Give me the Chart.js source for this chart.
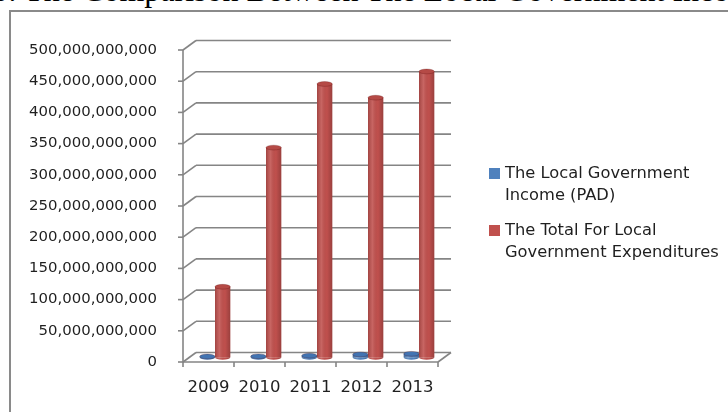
<!DOCTYPE html>
<html>
<head>
<meta charset="utf-8">
<script src="https://cdn.jsdelivr.net/npm/chart.js@4.4.1/dist/chart.umd.min.js"></script>
<style>
body{margin:0;background:#fff;overflow:hidden;width:728px;height:412px;position:relative}
#title{position:absolute;left:-8px;top:-26px;font:32px "Liberation Serif",serif;line-height:32px;white-space:nowrap;color:#000}
#frame{position:absolute;left:9px;top:10px;width:800px;height:500px;border-left:2px solid #8a8a8a;border-top:2px solid #8a8a8a}
#c{position:absolute;left:0;top:0}
</style>
</head>
<body>
<div id="title">3: The Comparison Between The Local Government Income</div>
<div id="frame"></div>
<canvas id="c" width="728" height="412"></canvas>
<script>
// values (rupiah)
const years = ['2009', '2010', '2011', '2012', '2013']
const padIncome = [1.2e9, 1.5e9, 2.5e9, 4.5e9, 5.5e9]
const totalExpenditures = [113e9, 336e9, 438e9, 416e9, 458e9]
const yTicks = [0, 50e9, 100e9, 150e9, 200e9, 250e9, 300e9, 350e9, 400e9, 450e9, 500e9]
const seriesNames = ['The Local Government Income (PAD)', 'The Total For Local Government Expenditures']
const legendLines = [['The Local Government', 'Income (PAD)'], ['The Total For Local', 'Government Expenditures']]
const seriesColors = ['#4f81bd', '#c0504d']
const capColors = ['#4274b2', '#b54a46']

const FONT = '"DejaVu Sans", sans-serif'
// depth of the fake 3d box (front plane -> back wall)
const DX = 13, DY = 9.5

function line(ctx, x1, y1, x2, y2) {
  ctx.beginPath()
  ctx.moveTo(x1, y1)
  ctx.lineTo(x2, y2)
  ctx.stroke()
}

//walls, floor and ticks, then shift the bars to mid depth
const walls = {
  id: 'walls',
  beforeDatasetsDraw(chart) {
    const { ctx, chartArea: a, scales: { x, y } } = chart
    ctx.save()
    ctx.strokeStyle = '#858585'
    ctx.lineWidth = 1.6
    yTicks.forEach(v => {
      const py = y.getPixelForValue(v)
      line(ctx, a.left - 5, py, a.left, py)
      line(ctx, a.left, py, a.left + DX, py - DY)
      line(ctx, a.left + DX, py - DY, a.right + DX, py - DY)
    })
    line(ctx, a.left, y.getPixelForValue(yTicks[yTicks.length - 1]), a.left, y.getPixelForValue(0))
    const y0 = y.getPixelForValue(0)
    line(ctx, a.left, y0, a.right, y0)
    line(ctx, a.right, y0, a.right + DX, y0 - DY)
    const w = (a.right - a.left) / years.length
    for (let i = 0; i <= years.length; i++) {
      line(ctx, a.left + i * w, y0, a.left + i * w, y0 + 5)
    }
    ctx.restore()
    ctx.save()
    ctx.translate(DX / 2, -DY / 2)
  },
  afterDatasetsDraw(chart) {
    const { ctx } = chart
    chart.data.datasets.forEach((ds, di) => {
      chart.getDatasetMeta(di).data.forEach(bar => {
        const w = bar.width, left = bar.x - w / 2, ry = 2.4
        // cylinder body shading
        const g = ctx.createLinearGradient(left, 0, left + w, 0)
        g.addColorStop(0, 'rgba(0,0,0,0.16)')
        g.addColorStop(0.3, 'rgba(255,255,255,0.12)')
        g.addColorStop(0.65, 'rgba(0,0,0,0)')
        g.addColorStop(1, 'rgba(0,0,0,0.2)')
        ctx.fillStyle = seriesColors[di]
        ctx.beginPath()
        ctx.ellipse(bar.x, bar.base, w / 2, ry, 0, 0, Math.PI)
        ctx.fill()
        ctx.fillStyle = g
        ctx.beginPath()
        ctx.moveTo(left, bar.y)
        ctx.lineTo(left, bar.base)
        ctx.ellipse(bar.x, bar.base, w / 2, ry, 0, Math.PI, 0, true)
        ctx.lineTo(left + w, bar.y)
        ctx.closePath()
        ctx.fill()
        // top cap
        ctx.fillStyle = capColors[di]
        ctx.strokeStyle = 'rgba(80,0,0,0.3)'
        ctx.lineWidth = 0.8
        ctx.beginPath()
        ctx.ellipse(bar.x, bar.y, w / 2, ry, 0, 0, Math.PI * 2)
        ctx.fill()
        ctx.stroke()
      })
    })
    ctx.restore()
  }
}

const legend = {
  id: 'sideLegend',
  afterDraw(chart) {
    const { ctx } = chart
    const tops = [168, 225]
    ctx.save()
    ctx.font = '16.3px ' + FONT
    ctx.textBaseline = 'middle'
    legendLines.forEach((lines, i) => {
      ctx.fillStyle = seriesColors[i]
      ctx.fillRect(489, tops[i], 11, 11)
      ctx.fillStyle = '#1f1f1f'
      lines.forEach((t, j) => ctx.fillText(t, 505, tops[i] + 5.5 + j * 22))
    })
    ctx.restore()
  }
}

new Chart('c', {
  type: 'bar',
  data: {
    labels: years,
    datasets: [{
      label: seriesNames[0],
      data: padIncome,
      backgroundColor: seriesColors[0],
      clip: false
    }, {
      label: seriesNames[1],
      data: totalExpenditures,
      backgroundColor: seriesColors[1],
      clip: false
    }]
  },
  options: {
    responsive: false,
    animation: false,
    layout: { padding: { left: 0, top: 50, right: 290, bottom: 0 } },
    datasets: { bar: { categoryPercentage: 0.6, barPercentage: 1 } },
    plugins: { legend: { display: false }, tooltip: { enabled: false } },
    scales: {
      x: {
        grid: { display: false },
        border: { display: false },
        ticks: { color: '#1f1f1f', font: { family: FONT, size: 16.5 }, padding: 8 },
        afterFit: s => { s.height = 50 }
      },
      y: {
        min: 0,
        max: 500e9,
        grid: { display: false },
        border: { display: false },
        afterBuildTicks: s => { s.ticks = yTicks.map(v => ({ value: v })) },
        ticks: {
          color: '#1f1f1f',
          font: { family: FONT, size: 14.9 },
          padding: 18,
          callback: v => v.toLocaleString('en-US')
        },
        afterFit: s => { s.width = 183 }
      }
    }
  },
  plugins: [walls, legend]
})
</script>
</body>
</html>
